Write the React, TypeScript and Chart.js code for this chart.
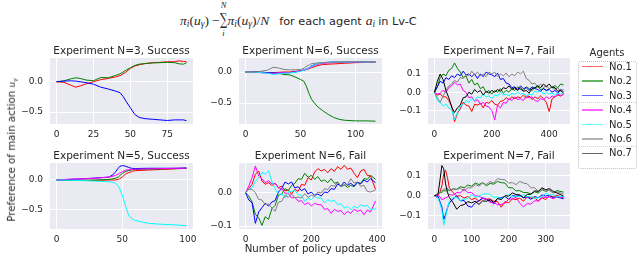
import React, { useEffect, useRef } from "react";
import { Chart, registerables } from "chart.js";
Chart.register(...registerables);

const FONT = '"DejaVu Sans", "Liberation Sans", sans-serif';
const SERIF = '"Liberation Serif", "DejaVu Serif", serif';
const TEXT = "#262626";
const BG = "#EAEAF2";

const AGENT_NAMES = ["No.1", "No.2", "No.3", "No.4", "No.5", "No.6", "No.7"];
const AGENT_COLORS = ["#ff0000", "#008000", "#0000ff", "#ff00ff", "#00ffff", "#808080", "#000000"];

const TITLES = [
  "Experiment N=3, Success",
  "Experiment N=6, Success",
  "Experiment N=7, Fail",
  "Experiment N=5, Success",
  "Experiment N=6, Fail",
  "Experiment N=7, Fail",
];
const X_LABEL = "Number of policy updates";

// ---------- Panel 1: N=3, Success ----------
const X1 = [0, 5, 10, 13, 16, 20, 25, 30, 35, 40, 43, 45, 47, 50, 53, 56, 60, 65, 70, 75, 80, 83, 86, 88];
const R1 = [0, -0.01, -0.06, -0.09, -0.07, -0.035, 0.0, 0.035, 0.055, 0.08, 0.1, 0.13, 0.16, 0.22, 0.26, 0.28, 0.3, 0.315, 0.32, 0.33, 0.33, 0.345, 0.335, 0.33];
const G1 = [0, 0.015, 0.05, 0.065, 0.055, 0.028, 0.017, 0.07, 0.065, 0.105, 0.13, 0.16, 0.19, 0.23, 0.27, 0.29, 0.3, 0.31, 0.315, 0.32, 0.315, 0.295, 0.29, 0.315];
const B1 = [0, 0.01, 0.015, 0.01, 0.0, -0.015, -0.04, -0.09, -0.12, -0.155, -0.18, -0.24, -0.32, -0.43, -0.54, -0.59, -0.61, -0.62, -0.63, -0.64, -0.63, -0.63, -0.63, -0.645];
const XT1 = [0, 25, 50, 75];
const YT1 = [-0.5, 0];

// ---------- Panel 2: N=6, Success ----------
const X2 = [0, 10, 20, 25, 30, 35, 40, 45, 50, 53, 55, 58, 60, 65, 70, 75, 80, 85, 90, 100, 110, 118];
const R2 = [0, 0.0, -0.01, -0.01, -0.005, 0.0, 0.0, 0.01, 0.02, 0.03, 0.04, 0.055, 0.07, 0.1, 0.12, 0.125, 0.13, 0.135, 0.14, 0.15, 0.155, 0.16];
const G2 = [0, 0.0, -0.01, -0.01, -0.02, -0.04, -0.045, -0.08, -0.12, -0.15, -0.22, -0.36, -0.44, -0.55, -0.62, -0.68, -0.73, -0.76, -0.775, -0.785, -0.785, -0.79];
const B2 = [0, 0.0, -0.01, -0.015, -0.02, -0.015, -0.01, 0.0, 0.02, 0.03, 0.04, 0.07, 0.1, 0.13, 0.15, 0.155, 0.16, 0.16, 0.16, 0.16, 0.165, 0.165];
const M2 = [0, -0.005, -0.02, -0.02, -0.015, -0.01, -0.01, 0.0, 0.02, 0.035, 0.05, 0.07, 0.09, 0.12, 0.14, 0.145, 0.15, 0.155, 0.155, 0.16, 0.16, 0.16];
const C2 = [0, -0.005, -0.02, -0.04, -0.03, -0.02, -0.015, -0.005, 0.01, 0.03, 0.045, 0.07, 0.09, 0.13, 0.15, 0.155, 0.16, 0.16, 0.16, 0.165, 0.16, 0.165];
const Y2 = [0, 0.0, 0.03, 0.075, 0.065, 0.04, 0.035, 0.035, 0.04, 0.06, 0.09, 0.115, 0.135, 0.145, 0.15, 0.155, 0.16, 0.16, 0.165, 0.165, 0.165, 0.165];
const XT2 = [0, 50, 100];
const YT2 = [-0.5, 0];

// ---------- Panel 3: N=7, Fail ----------
const X3 = [0, 10, 20, 30, 40, 50, 60, 70, 80, 90, 100, 110, 120, 130, 140, 150, 160, 170, 180, 190, 200, 210, 220, 230, 240, 250, 260, 270, 280, 290, 300, 310, 320, 330, 340, 350, 360, 370, 380, 390, 400, 410, 420, 430, 440, 450];
const R3 = [0, -0.015, -0.01, -0.025, -0.025, -0.045, -0.075, -0.16, -0.115, -0.09, -0.055, -0.07, -0.075, -0.105, -0.065, -0.07, -0.06, -0.085, -0.055, -0.06, -0.045, -0.065, -0.07, -0.05, -0.045, -0.03, -0.04, -0.025, -0.035, -0.025, -0.03, -0.015, -0.03, -0.02, -0.04, -0.025, -0.035, -0.02, -0.035, -0.055, -0.105, -0.035, -0.025, -0.015, -0.02, -0.01];
const G3 = [0, 0.03, 0.08, 0.1, 0.09, 0.12, 0.13, 0.16, 0.13, 0.11, 0.08, 0.09, 0.05, 0.07, 0.04, 0.05, 0.02, 0.03, 0.0, 0.01, -0.01, 0.01, 0.0, 0.02, -0.005, 0.01, 0.0, 0.02, 0.01, 0.03, 0.015, 0.01, 0.03, 0.02, 0.01, 0.025, 0.03, 0.015, 0.02, 0.01, 0.02, 0.03, 0.035, 0.025, 0.045, 0.04];
const B3 = [0, 0.03, 0.06, 0.05, 0.08, 0.07, 0.09, 0.08, 0.1, 0.09, 0.115, 0.095, 0.1, 0.085, 0.1, 0.075, 0.1, 0.085, 0.11, 0.1, 0.095, 0.085, 0.105, 0.07, 0.075, 0.05, 0.045, 0.025, 0.03, 0.015, 0.035, 0.02, 0.025, 0.01, 0.03, 0.02, 0.015, 0.005, 0.02, 0.01, 0.015, 0.0, 0.01, -0.005, 0.015, 0.005];
const M3 = [0, -0.01, -0.005, 0.01, 0.0, 0.025, 0.035, 0.055, 0.04, 0.045, 0.01, 0.0, -0.03, -0.025, -0.05, -0.04, -0.065, -0.055, -0.075, -0.08, -0.1, -0.15, -0.07, -0.085, -0.055, -0.06, -0.035, -0.045, -0.025, -0.04, -0.035, -0.045, -0.02, -0.03, -0.025, -0.045, -0.05, -0.035, -0.04, -0.025, -0.035, -0.02, -0.025, -0.01, -0.02, -0.01];
const C3 = [0, -0.045, -0.055, -0.075, -0.065, -0.085, -0.095, -0.15, -0.11, -0.075, -0.065, -0.045, -0.055, -0.035, -0.045, -0.025, -0.03, -0.01, -0.025, -0.02, -0.035, -0.015, -0.02, 0.0, -0.015, -0.01, -0.02, -0.005, -0.01, 0.0, -0.01, -0.005, -0.02, -0.01, -0.015, 0.005, 0.0, 0.01, -0.01, 0.0, -0.01, -0.005, -0.015, -0.005, -0.01, 0.0];
const Y3 = [0, -0.03, -0.055, -0.02, 0.01, 0.035, 0.045, 0.065, 0.055, 0.08, 0.075, 0.095, 0.09, 0.115, 0.095, 0.11, 0.09, 0.1, 0.085, 0.11, 0.1, 0.11, 0.085, 0.1, 0.09, 0.105, 0.085, 0.1, 0.09, 0.11, 0.1, 0.115, 0.075, 0.065, 0.045, 0.05, 0.03, 0.045, 0.025, 0.035, 0.02, 0.03, 0.015, 0.025, 0.005, 0.015];
const K3 = [0, 0.06, 0.1, 0.07, 0.01, -0.03, -0.08, -0.11, -0.085, -0.07, -0.03, -0.025, 0.0, -0.01, 0.015, 0.0, 0.01, -0.015, 0.005, -0.005, 0.01, 0.0, 0.015, 0.005, 0.025, 0.02, 0.035, 0.015, 0.025, 0.01, 0.025, 0.005, 0.01, -0.005, 0.02, 0.025, 0.035, 0.025, 0.045, 0.03, 0.045, 0.025, 0.025, 0.005, 0.01, -0.005];
const XT3 = [0, 200, 400];
const YT3 = [-0.1, 0, 0.1];

// ---------- Panel 4: N=5, Success ----------
const X4 = [0, 10, 20, 30, 40, 43, 45, 47, 48, 50, 52, 53, 55, 57, 58, 60, 65, 70, 80, 90, 99];
const R4 = [0, -0.005, -0.005, -0.005, 0.0, 0.0, 0.0, 0.01, 0.02, 0.05, 0.09, 0.11, 0.125, 0.14, 0.15, 0.16, 0.165, 0.17, 0.18, 0.19, 0.2];
const G4 = [0, -0.005, -0.005, 0.0, 0.01, 0.02, 0.03, 0.05, 0.07, 0.11, 0.14, 0.15, 0.16, 0.17, 0.175, 0.18, 0.183, 0.185, 0.19, 0.195, 0.2];
const B4 = [0, 0.01, 0.02, 0.035, 0.05, 0.09, 0.14, 0.2, 0.23, 0.245, 0.24, 0.23, 0.215, 0.2, 0.198, 0.195, 0.198, 0.2, 0.2, 0.2, 0.205];
const M4 = [0, 0.015, 0.02, 0.03, 0.05, 0.065, 0.08, 0.1, 0.115, 0.14, 0.16, 0.17, 0.175, 0.18, 0.18, 0.185, 0.188, 0.19, 0.195, 0.2, 0.2];
const C4 = [0, -0.005, -0.01, -0.02, -0.03, -0.04, -0.057, -0.1, -0.14, -0.26, -0.4, -0.47, -0.6, -0.65, -0.67, -0.69, -0.715, -0.74, -0.755, -0.765, -0.78];
const XT4 = [0, 50, 100];
const YT4 = [-0.5, 0];

// ---------- Panel 5: N=6, Fail ----------
const X5 = [0, 10, 20, 30, 40, 50, 60, 70, 80, 90, 100, 110, 120, 130, 140, 150, 160, 170, 180, 190, 200, 210, 220, 230, 240, 250, 260, 270, 280, 290, 300, 310, 320, 330, 340, 350, 360, 370, 380, 395];
const R5 = [0, 0.012, 0.025, 0.055, 0.065, 0.035, 0.025, 0.03, 0.022, 0.028, 0.015, 0.02, 0.005, 0.008, -0.004, 0.01, 0.004, 0.025, 0.022, 0.045, 0.038, 0.062, 0.072, 0.065, 0.07, 0.06, 0.072, 0.064, 0.078, 0.07, 0.082, 0.07, 0.074, 0.058, 0.045, 0.065, 0.07, 0.052, 0.05, 0.01];
const G5 = [0, -0.01, -0.028, -0.065, -0.075, -0.098, -0.072, -0.08, -0.048, -0.038, -0.008, -0.004, 0.012, 0.006, 0.022, 0.028, 0.042, 0.04, 0.058, 0.046, 0.052, 0.04, 0.048, 0.034, 0.038, 0.03, 0.042, 0.028, 0.032, 0.018, 0.024, 0.016, 0.022, 0.018, 0.03, 0.028, 0.042, 0.04, 0.052, 0.04];
const B5 = [0, -0.022, -0.03, -0.092, -0.058, -0.045, -0.032, -0.04, -0.028, -0.024, 0.002, 0.012, 0.032, 0.026, 0.032, 0.014, 0.018, 0.006, 0.012, -0.004, 0.002, -0.008, -0.004, -0.01, 0.002, 0.0, 0.012, 0.01, 0.026, 0.02, 0.032, 0.022, 0.028, 0.02, 0.032, 0.026, 0.038, 0.032, 0.042, 0.03];
const M5 = [0, 0.02, 0.045, 0.08, 0.05, 0.042, 0.03, 0.036, 0.026, 0.028, 0.014, 0.012, -0.002, -0.002, -0.016, -0.014, -0.026, -0.024, -0.036, -0.03, -0.04, -0.032, -0.036, -0.036, -0.05, -0.048, -0.062, -0.05, -0.056, -0.054, -0.066, -0.056, -0.062, -0.05, -0.056, -0.052, -0.066, -0.052, -0.058, -0.025];
const C5 = [0, 0.01, 0.015, 0.034, 0.045, 0.06, 0.056, 0.066, 0.034, 0.012, -0.006, -0.003, -0.016, 0.002, 0.004, 0.007, -0.006, -0.008, -0.026, -0.016, -0.021, -0.011, -0.016, -0.016, -0.031, -0.021, -0.026, -0.023, -0.036, -0.033, -0.046, -0.041, -0.051, -0.041, -0.046, -0.036, -0.041, -0.038, -0.051, -0.048];
const Y5 = [0, 0.01, 0.01, 0.0, -0.02, -0.022, -0.036, -0.034, -0.046, -0.056, -0.028, -0.026, -0.008, -0.014, -0.003, -0.016, -0.013, -0.016, -0.003, -0.014, -0.008, -0.011, 0.002, -0.001, 0.012, 0.009, 0.022, 0.019, 0.032, 0.019, 0.022, 0.024, 0.042, 0.029, 0.032, 0.019, 0.022, 0.004, 0.002, 0.008];
const XT5 = [0, 200, 400];
const YT5 = [-0.1, 0];

// ---------- Panel 6: N=7, Fail ----------
const X6 = [0, 5, 10, 15, 20, 25, 30, 35, 40, 50, 60, 70, 80, 90, 100, 110, 120, 130, 140, 150, 160, 170, 180, 190, 200, 210, 220, 230, 240, 250, 260, 270, 280, 290, 300, 310, 320, 330, 348];
const R6 = [0, -0.002, 0.004, 0.02, 0.05, 0.11, 0.128, 0.092, 0.04, 0.016, -0.002, 0.0, -0.012, -0.004, -0.02, -0.012, -0.028, -0.014, -0.018, -0.016, -0.028, -0.03, -0.058, -0.03, -0.036, -0.016, -0.02, -0.012, -0.028, -0.006, -0.012, -0.01, -0.028, -0.01, -0.02, 0.0, -0.004, 0.002, -0.01];
const G6 = [0, 0.004, 0.01, 0.018, 0.016, 0.026, 0.024, 0.032, 0.026, 0.034, 0.032, 0.046, 0.04, 0.054, 0.048, 0.064, 0.056, 0.066, 0.05, 0.062, 0.058, 0.072, 0.066, 0.064, 0.04, 0.04, 0.024, 0.026, 0.016, 0.016, 0.008, 0.02, 0.014, 0.03, 0.022, 0.028, 0.014, 0.026, 0.018];
const B6 = [0, -0.006, -0.004, -0.032, -0.056, -0.12, -0.094, -0.062, -0.036, -0.018, 0.0, -0.026, -0.024, -0.052, -0.058, -0.036, -0.026, -0.01, -0.018, -0.026, -0.042, -0.014, -0.01, -0.004, -0.018, 0.0, -0.002, 0.002, -0.01, -0.006, -0.018, -0.004, -0.01, 0.004, -0.002, 0.002, -0.01, -0.006, -0.016];
const M6 = [0, 0.002, 0.002, -0.006, -0.02, -0.016, -0.01, -0.008, 0.006, 0.002, 0.016, 0.014, 0.034, 0.016, 0.016, 0.0, -0.002, -0.014, -0.018, -0.034, -0.034, -0.046, -0.044, -0.038, -0.018, -0.016, -0.008, -0.038, -0.056, -0.04, -0.042, -0.026, -0.026, -0.006, -0.01, -0.006, -0.016, -0.004, -0.008];
const C6 = [0, -0.004, -0.014, -0.04, -0.072, -0.148, -0.108, -0.062, -0.028, -0.008, -0.01, -0.024, -0.018, -0.014, 0.006, -0.008, -0.002, 0.008, 0.01, 0.006, -0.008, -0.006, -0.016, -0.002, 0.006, -0.006, -0.002, -0.004, 0.006, -0.006, -0.002, -0.014, -0.01, -0.006, 0.014, 0.002, 0.006, -0.006, -0.002];
const Y6 = [0, 0.006, 0.01, 0.018, 0.024, 0.034, 0.034, 0.038, 0.024, 0.034, 0.032, 0.038, 0.024, 0.04, 0.04, 0.056, 0.048, 0.064, 0.056, 0.072, 0.064, 0.086, 0.082, 0.08, 0.064, 0.066, 0.056, 0.072, 0.064, 0.06, 0.04, 0.04, 0.022, 0.036, 0.022, 0.028, 0.014, 0.02, 0.008];
const K6 = [0, 0.002, 0.012, 0.08, 0.152, 0.136, 0.06, 0.018, -0.008, -0.035, -0.068, -0.05, -0.045, -0.03, -0.036, -0.028, -0.044, -0.026, -0.028, -0.02, -0.034, -0.014, -0.02, 0.0, -0.002, 0.014, 0.006, 0.004, -0.01, 0.006, 0.008, 0.024, 0.022, 0.04, 0.03, 0.036, 0.022, 0.014, -0.002];
const XT6 = [0, 100, 200, 300];
const YT6 = [-0.1, 0, 0.1];

type PanelSpec = {
  title: string;
  xs: number[];
  agents: number[];
  series: number[][];
  xr: [number, number];
  yr: [number, number];
  xt: number[];
  yt: number[];
  left: number;
  top: number;
  w: number;
  h: number;
  xTitle?: string;
};

const PANELS: PanelSpec[] = [
  { title: TITLES[0], xs: X1, agents: [0, 1, 2], series: [R1, G1, B1], xr: [-4.4, 92.4], yr: [-0.698, 0.392], xt: XT1, yt: YT1, left: 50, top: 58, w: 143, h: 66 },
  { title: TITLES[1], xs: X2, agents: [0, 1, 2, 3, 4, 5], series: [R2, G2, B2, M2, C2, Y2], xr: [-5.9, 123.9], yr: [-0.835, 0.225], xt: XT2, yt: YT2, left: 239, top: 58, w: 143, h: 66 },
  { title: TITLES[2], xs: X3, agents: [0, 1, 2, 3, 4, 5, 6], series: [R3, G3, B3, M3, C3, Y3, K3], xr: [-22.5, 472.5], yr: [-0.173, 0.187], xt: XT3, yt: YT3, left: 428, top: 58, w: 142, h: 66 },
  { title: TITLES[3], xs: X4, agents: [0, 1, 2, 3, 4], series: [R4, G4, B4, M4, C4], xr: [-4.95, 103.95], yr: [-0.836, 0.29], xt: XT4, yt: YT4, left: 50, top: 163, w: 143, h: 66 },
  { title: TITLES[4], xs: X5, agents: [0, 1, 2, 3, 4, 5], series: [R5, G5, B5, M5, C5, Y5], xr: [-19.75, 414.75], yr: [-0.109, 0.089], xt: XT5, yt: YT5, left: 239, top: 163, w: 143, h: 66, xTitle: X_LABEL },
  { title: TITLES[5], xs: X6, agents: [0, 1, 2, 3, 4, 5, 6], series: [R6, G6, B6, M6, C6, Y6, K6], xr: [-17.4, 365.4], yr: [-0.168, 0.165], xt: XT6, yt: YT6, left: 428, top: 163, w: 142, h: 66 },
];

const LEFT_W = 48;
const TOP_H = 22;
const RIGHT_P = 14;
const BOTTOM_H = 22;

const bgPlugin = {
  id: "axesBg",
  beforeDraw(chart: any) {
    const { ctx, chartArea: a } = chart;
    ctx.save();
    ctx.fillStyle = BG;
    ctx.fillRect(a.left, a.top, a.right - a.left, a.bottom - a.top);
    ctx.restore();
  },
};

function fmtY(v: number) {
  const s = Math.abs(v).toFixed(1);
  return v < -1e-9 ? "\u2212" + s : s;
}

function Panel({ spec }: { spec: PanelSpec }) {
  const ref = useRef<HTMLCanvasElement | null>(null);
  const bottomH = spec.xTitle ? 28 : BOTTOM_H;
  const cw = LEFT_W + spec.w + RIGHT_P;
  const ch = TOP_H + spec.h + bottomH;

  useEffect(() => {
    if (!ref.current) return;
    const datasets = spec.agents.map((a, k) => ({
      label: AGENT_NAMES[a],
      data: spec.xs.map((x, i) => ({ x, y: spec.series[k][i] })),
      borderColor: AGENT_COLORS[a],
      backgroundColor: AGENT_COLORS[a],
      borderWidth: 1,
      pointRadius: 0,
      tension: 0,
      fill: false,
      order: -a,
    }));
    const chart = new Chart(ref.current, {
      type: "line",
      data: { datasets },
      plugins: [bgPlugin],
      options: {
        responsive: false,
        devicePixelRatio: 1,
        animation: false,
        events: [],
        layout: { padding: { left: 0, right: RIGHT_P, top: 0, bottom: 0 } },
        plugins: {
          legend: { display: false },
          tooltip: { enabled: false },
          title: {
            display: true,
            text: spec.title,
            fullSize: false,
            color: TEXT,
            font: { family: FONT, size: 10.5, weight: "normal" },
            padding: { top: TOP_H - 12.6, bottom: 0 },
          },
        },
        scales: {
          x: {
            type: "linear",
            min: spec.xr[0],
            max: spec.xr[1],
            afterBuildTicks: (s: any) => {
              s.ticks = spec.xt.map((v) => ({ value: v }));
            },
            afterFit: (s: any) => {
              s.height = bottomH;
            },
            grid: { color: "#ffffff", lineWidth: 1, drawTicks: false },
            border: { display: false },
            ticks: {
              color: TEXT,
              font: { family: FONT, size: 9 },
              padding: 5,
              autoSkip: false,
              maxRotation: 0,
              callback: (v: any) => String(Math.round(Number(v))),
            },
            title: spec.xTitle
              ? {
                  display: true,
                  text: spec.xTitle,
                  color: TEXT,
                  font: { family: FONT, size: 10.2 },
                  padding: { top: 0, bottom: 2 },
                }
              : { display: false },
          },
          y: {
            type: "linear",
            min: spec.yr[0],
            max: spec.yr[1],
            afterBuildTicks: (s: any) => {
              s.ticks = spec.yt.map((v) => ({ value: v }));
            },
            afterFit: (s: any) => {
              s.width = LEFT_W;
            },
            grid: { color: "#ffffff", lineWidth: 1, drawTicks: false },
            border: { display: false },
            ticks: {
              color: TEXT,
              font: { family: FONT, size: 9 },
              padding: 7,
              autoSkip: false,
              callback: (v: any) => fmtY(Number(v)),
            },
          },
        },
      } as any,
    });
    return () => chart.destroy();
  }, [spec]);

  return (
    <canvas
      ref={ref}
      width={cw}
      height={ch}
      style={{ position: "absolute", left: spec.left - LEFT_W, top: spec.top - TOP_H, width: cw, height: ch }}
    />
  );
}

const subStyle: React.CSSProperties = { fontSize: "0.7em", position: "relative", top: "0.3em" };
const up: React.CSSProperties = { fontStyle: "normal" };

function MathPi({ tail }: { tail?: boolean }) {
  return (
    <>
      π<span style={subStyle}>i</span>
      <span style={up}>(</span>u<span style={subStyle}>γ</span>
      <span style={up}>)</span>
      {tail ? <span style={up}>/</span> : null}
      {tail ? "N" : null}
    </>
  );
}

function MainTitle() {
  const math: React.CSSProperties = { font: `italic 13.5px ${SERIF}`, lineHeight: 1 };
  const sans: React.CSSProperties = { font: `11.3px ${FONT}`, lineHeight: 1 };
  const lim: React.CSSProperties = {
    position: "absolute",
    left: 0,
    width: 8,
    textAlign: "center",
    font: `italic 8.5px ${SERIF}`,
    lineHeight: 1,
  };
  return (
    <div
      style={{
        position: "absolute",
        left: 180,
        top: 10.6,
        display: "flex",
        alignItems: "baseline",
        whiteSpace: "nowrap",
        color: TEXT,
      }}
    >
      <span style={math}>
        <MathPi />
      </span>
      <span style={{ font: `13.5px ${SERIF}`, lineHeight: 1, margin: "0 0 0 3px" }}>−</span>
      <span style={{ position: "relative", display: "inline-block", width: 8, lineHeight: 1 }}>
        <span style={{ display: "inline-block", font: `17px "DejaVu Serif", serif`, lineHeight: 1, transform: "scaleX(0.6)", transformOrigin: "left center" }}>
          ∑
        </span>
        <span style={{ ...lim, top: -10 }}>N</span>
        <span style={{ ...lim, top: 18 }}>i</span>
      </span>
      <span style={math}>
        <MathPi tail />
      </span>
      <span style={{ ...sans, marginLeft: 10 }}>for each agent</span>
      <span style={{ ...math, marginLeft: 4 }}>
        a<span style={subStyle}>i</span>
      </span>
      <span style={{ ...sans, marginLeft: 3 }}>in Lv-C</span>
    </div>
  );
}

export default function App() {
  const legendY = [66.7, 81.2, 95.7, 110.1, 124.5, 139, 153.4];
  return (
    <div style={{ position: "absolute", left: 0, top: 0, width: 641, height: 256, background: "#ffffff", overflow: "hidden", fontFamily: FONT }}>
      <MainTitle />

      {PANELS.map((p, i) => (
        <Panel key={i} spec={p} />
      ))}

      {/* y label */}
      <div
        style={{
          position: "absolute",
          left: 11.7,
          top: 150,
          transform: "translate(-50%, -50%) rotate(-90deg)",
          whiteSpace: "nowrap",
          font: `10.2px ${FONT}`,
          color: TEXT,
          lineHeight: 1,
        }}
      >
        Preference of main action <i style={{ fontSize: "0.85em" }}>u</i>
        <span style={{ fontSize: "0.6em", position: "relative", top: "0.3em", fontStyle: "italic" }}>γ</span>
      </div>

      {/* legend */}
      <div style={{ position: "absolute", left: 577, width: 60, top: 46.5, textAlign: "center", font: `10px ${FONT}`, color: TEXT, lineHeight: "12px" }}>
        Agents
      </div>
      <div
        style={{
          position: "absolute",
          left: 578,
          top: 60.5,
          width: 59,
          height: 108,
          boxSizing: "border-box",
          border: "1px dotted #bdbdbd",
          borderRadius: 3,
          background: "#ffffff",
        }}
      />
      <div style={{ position: "absolute", left: 579, top: 102, width: 57, height: 0, borderTop: "1px dotted #cfcfcf" }} />
      <div style={{ position: "absolute", left: 579, top: 146, width: 57, height: 0, borderTop: "1px dotted #cfcfcf" }} />
      {AGENT_NAMES.map((n, i) => (
        <React.Fragment key={n}>
          <div
            style={{
              position: "absolute",
              left: 581.5,
              top: legendY[i] - 0.75,
              width: 21,
              height: 1.5,
              background: AGENT_COLORS[i],
              opacity: 0.6,
            }}
          />
          <div style={{ position: "absolute", left: 609, top: legendY[i] - 6, font: `10px ${FONT}`, color: TEXT, lineHeight: "12px", whiteSpace: "nowrap" }}>
            {n}
          </div>
        </React.Fragment>
      ))}
    </div>
  );
}
